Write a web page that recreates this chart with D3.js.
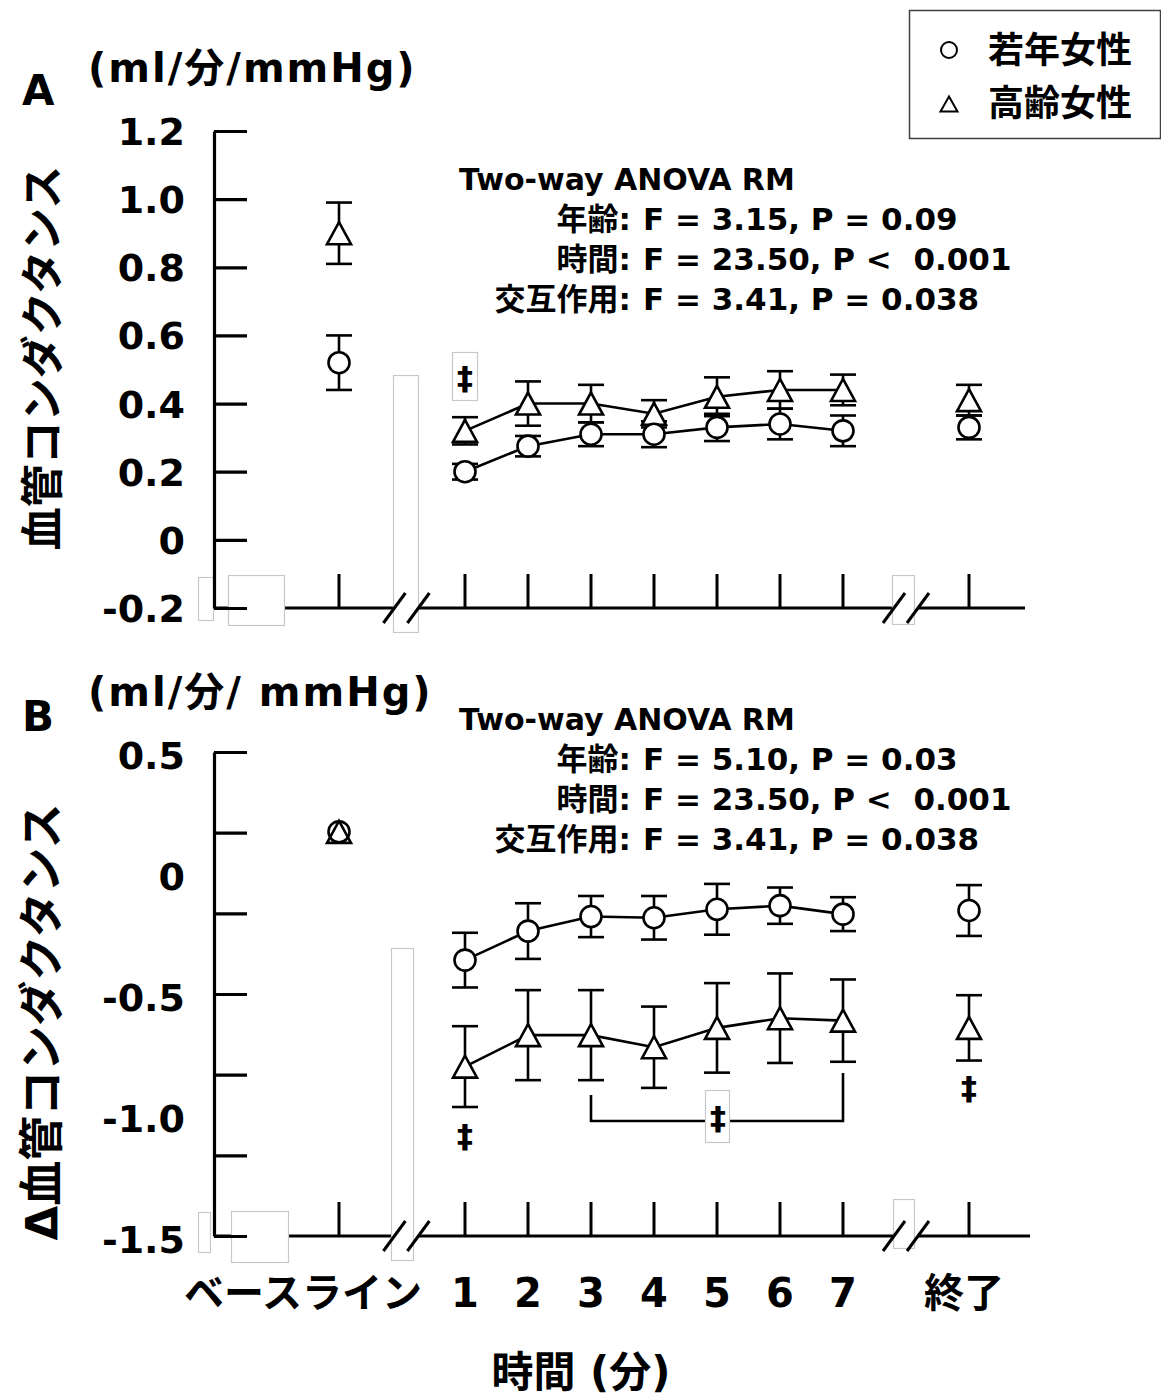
<!DOCTYPE html>
<html>
<head>
<meta charset="utf-8">
<script src="https://cdn.jsdelivr.net/npm/d3@7"></script>
<style>
  body { margin: 0; background: #fff; }
  svg { display: block; }
  text { font-family: "DejaVu Sans", "Noto Sans CJK JP", sans-serif; font-weight: bold; fill: #000; }
</style>
</head>
<body>
<svg id="chart" width="1161" height="1400"></svg>
<script>
// ---- data ----
const timeLabels = ["ベースライン", "1", "2", "3", "4", "5", "6", "7", "終了"];
const timeSlots = [-1, 1, 2, 3, 4, 5, 6, 7, 9];   // gaps at 0 and 8 carry the axis breaks
const lineSlots = [1, 2, 3, 4, 5, 6, 7];

// Panel A: vascular conductance (ml/min/mmHg), mean and SE
const youngA = [0.52, 0.20, 0.275, 0.31, 0.31, 0.33, 0.34, 0.32, 0.33];
const youngASE = [0.08, 0.023, 0.03, 0.035, 0.038, 0.04, 0.045, 0.045, 0.035];
const olderA = [0.90, 0.32, 0.40, 0.40, 0.37, 0.42, 0.44, 0.44, 0.41];
const olderASE = [0.09, 0.04, 0.065, 0.055, 0.04, 0.057, 0.055, 0.045, 0.045];

// Panel B: change in vascular conductance, mean and SE
const youngB = [0.17, -0.36, -0.24, -0.18, -0.185, -0.15, -0.135, -0.17, -0.155];
const youngBSE = [0, 0.113, 0.115, 0.085, 0.09, 0.105, 0.075, 0.07, 0.105];
const olderB = [0.17, -0.80, -0.67, -0.67, -0.72, -0.64, -0.60, -0.61, -0.64];
const olderBSE = [0, 0.167, 0.186, 0.186, 0.168, 0.185, 0.185, 0.17, 0.135];

const yTicksA = [-0.2, 0, 0.2, 0.4, 0.6, 0.8, 1.0, 1.2];
const yLabelsA = [-0.2, 0, 0.2, 0.4, 0.6, 0.8, 1.0, 1.2];
const yTicksB = [-1.5, -7 / 6, -5 / 6, -0.5, -1 / 6, 1 / 6, 0.5];
const yLabelsB = [0.5, 0, -0.5, -1.0, -1.5];

const statsA = [["年齢:", "F = 3.15, P = 0.09"], ["時間:", "F = 23.50, P <  0.001"], ["交互作用:", "F = 3.41, P = 0.038"]];
const statsB = [["年齢:", "F = 5.10, P = 0.03"], ["時間:", "F = 23.50, P <  0.001"], ["交互作用:", "F = 3.41, P = 0.038"]];
const legendNames = ["若年女性", "高齢女性"];

// ---- layout ----
const svg = d3.select("#chart");
const axisX = 214;
const x = d3.scaleLinear().domain([1, 7]).range([465, 843]);
const yA = d3.scaleLinear().domain([-0.2, 1.2]).range([608, 131]);
const yB = d3.scaleLinear().domain([-1.5, 0.5]).range([1236, 752]);
const breakSlots = [0.07, 8];
const BOX = "#c8c8c8";

// one decimal, plain hyphen for negatives, bare "0" at zero
function fmtTick(v) { return v === 0 ? "0" : d3.format(".1f")(v).replace("−", "-"); }

function triPath(cx, cy, w, h) {
  return `M${cx},${cy - h / 2}L${cx + w / 2},${cy + h / 2}L${cx - w / 2},${cy + h / 2}Z`;
}

function drawDagger(g, cx, cy) {
  g.append("text").attr("x", cx).attr("y", cy).attr("text-anchor", "middle")
    .attr("font-size", 32).text("‡");
}

function drawPanel(p) {
  const g = svg.append("g");
  const y = p.y;
  const yBase = y.range()[0];

  // x axis line with gaps at the breaks
  const gaps = breakSlots.map(s => x(s));
  const segs = [[axisX, gaps[0] - 12], [gaps[0] + 12, gaps[1] - 12], [gaps[1] + 12, p.axisEnd]];
  g.selectAll(".xseg").data(segs).join("line")
    .attr("x1", d => d[0]).attr("x2", d => d[1])
    .attr("y1", yBase).attr("y2", yBase)
    .attr("stroke", "#000").attr("stroke-width", 3.2);

  // framed white boxes
  g.selectAll(".box").data(p.boxes).join("rect")
    .attr("x", d => d[0] + 0.5).attr("y", d => d[1] + 0.5)
    .attr("width", d => d[2]).attr("height", d => d[3])
    .attr("fill", "#fff").attr("stroke", BOX).attr("stroke-width", 1.2);

  // break slashes
  gaps.forEach(bx => {
    [-12, 12].forEach(off => {
      g.append("line")
        .attr("x1", bx + off - 11).attr("y1", yBase + 15)
        .attr("x2", bx + off + 11).attr("y2", yBase - 15)
        .attr("stroke", "#000").attr("stroke-width", 3);
    });
  });

  // y axis with inward ticks
  const ax = g.append("g").attr("transform", `translate(${axisX},0)`)
    .call(d3.axisRight(y).tickValues(p.yTicks).tickSize(33).tickSizeOuter(0).tickFormat(""));
  ax.selectAll("path, line").attr("stroke", "#000").attr("stroke-width", 3.2);

  // y tick labels
  g.selectAll(".ylab").data(p.yLabels).join("text")
    .attr("x", 185).attr("y", d => y(d) + 14 + p.labelShift)
    .attr("text-anchor", "end").attr("font-size", 38)
    .text(fmtTick);

  // x ticks
  g.selectAll(".xtick").data(timeSlots).join("line")
    .attr("x1", d => x(d)).attr("x2", d => x(d))
    .attr("y1", yBase).attr("y2", yBase - 34)
    .attr("stroke", "#000").attr("stroke-width", 3);

  // error bars
  const series = [
    { m: p.older, se: p.olderSE, shape: "tri" },
    { m: p.young, se: p.youngSE, shape: "circ" }
  ];
  series.forEach(s => {
    const pts = timeSlots.map((t, i) => ({ t, m: s.m[i], se: s.se[i] })).filter(d => d.se > 0);
    const eb = g.append("g");
    eb.selectAll(".v").data(pts).join("line")
      .attr("x1", d => x(d.t)).attr("x2", d => x(d.t))
      .attr("y1", d => y(d.m + d.se)).attr("y2", d => y(d.m - d.se))
      .attr("stroke", "#000").attr("stroke-width", 2.6);
    [1, -1].forEach(sign => {
      eb.append("g").selectAll("line").data(pts).join("line")
        .attr("x1", d => x(d.t) - 13).attr("x2", d => x(d.t) + 13)
        .attr("y1", d => y(d.m + sign * d.se))
        .attr("y2", d => y(d.m + sign * d.se))
        .attr("stroke", "#000").attr("stroke-width", 2.6);
    });
  });

  // connecting lines over minutes 1-7
  const line = d3.line().x(d => x(d.t)).y(d => y(d.m));
  series.forEach(s => {
    const pts = timeSlots.map((t, i) => ({ t, m: s.m[i] })).filter(d => lineSlots.includes(d.t));
    g.append("path").attr("d", line(pts))
      .attr("fill", "none").attr("stroke", "#000").attr("stroke-width", 2.6);
  });

  // markers
  series.forEach(s => {
    const pts = timeSlots.map((t, i) => ({ t, m: s.m[i] }));
    if (s.shape === "circ") {
      g.append("g").selectAll("circle").data(pts).join("circle")
        .attr("cx", d => x(d.t)).attr("cy", d => y(d.m)).attr("r", 10.5)
        .attr("fill", d => (p.hollowBaseline && d.t === -1) ? "none" : "#fff")
        .attr("stroke", "#000").attr("stroke-width", 2.6);
    } else {
      g.append("g").selectAll("path").data(pts).join("path")
        .attr("d", d => triPath(x(d.t), y(d.m), 24, 22))
        .attr("fill", "#fff").attr("stroke", "#000").attr("stroke-width", 2.6);
    }
  });

  // stats block
  g.append("text").attr("x", 459).attr("y", p.statsY).attr("font-size", 30).text("Two-way ANOVA RM");
  p.stats.forEach((s, i) => {
    g.append("text").attr("x", 631).attr("y", p.statsY + 40 * (i + 1))
      .attr("text-anchor", "end").attr("font-size", 31).text(s[0]);
    g.append("text").attr("x", 643).attr("y", p.statsY + 40 * (i + 1))
      .attr("font-size", 31).style("white-space", "pre").text(s[1]);
  });

  // panel letter, unit, axis title
  g.append("text").attr("x", 22).attr("y", p.letterY).attr("font-size", 42).text(p.letter);
  g.append("text").attr("x", 88).attr("y", p.unitY).attr("font-size", 40)
    .attr("letter-spacing", 2).style("white-space", "pre").text(p.unit);
  g.append("text")
    .attr("transform", `translate(58,${p.titleY}) rotate(-90)`)
    .attr("text-anchor", "middle").attr("font-size", p.titleSize).text(p.title);

  return g;
}

// Panel A
const gA = drawPanel({
  y: yA, yTicks: yTicksA, yLabels: yLabelsA, labelShift: 0,
  young: youngA, youngSE: youngASE, older: olderA, olderSE: olderASE,
  axisEnd: 1025,
  boxes: [[198, 577, 15, 43], [228, 575, 56, 50], [393, 375, 25, 257], [892, 575, 22, 49], [452, 352, 25, 48]],
  stats: statsA, statsY: 190,
  letter: "A", letterY: 105, unit: "(ml/分/mmHg)", unitY: 82,
  title: "血管コンダクタンス", titleY: 358, titleSize: 43
});
drawDagger(gA, x(1), 389);

// Panel B
const gB = drawPanel({
  y: yB, yTicks: yTicksB, yLabels: yLabelsB, labelShift: 3,
  young: youngB, youngSE: youngBSE, older: olderB, olderSE: olderBSE,
  axisEnd: 1030, hollowBaseline: true,
  boxes: [[198, 1212, 12, 40], [231, 1211, 57, 51], [391, 948, 22, 312], [893, 1199, 21, 49]],
  stats: statsB, statsY: 730,
  letter: "B", letterY: 731, unit: "(ml/分/ mmHg)", unitY: 706,
  title: "Δ血管コンダクタンス", titleY: 1022, titleSize: 45
});

// bracket across minutes 3-7 with its mark
gB.append("path")
  .attr("d", `M${x(3)},1095V1121H${x(7)}V1073`)
  .attr("fill", "none").attr("stroke", "#000").attr("stroke-width", 2.6);
gB.append("rect").attr("x", 705.5).attr("y", 1090.5).attr("width", 24).attr("height", 52)
  .attr("fill", "#fff").attr("stroke", BOX).attr("stroke-width", 1.2);
drawDagger(gB, x(1), 1147);
drawDagger(gB, (x(3) + x(7)) / 2 + 1, 1129);
drawDagger(gB, x(9), 1099);

// x tick labels
const xLabPos = timeSlots.map((t, i) => ({ t, label: timeLabels[i] }));
svg.selectAll(".xlab").data(xLabPos).join("text")
  .attr("x", d => d.t === -1 ? 303 : (d.t === 9 ? x(d.t) - 5 : x(d.t)))
  .attr("y", 1307).attr("text-anchor", "middle").attr("font-size", 40)
  .text(d => d.label);
svg.append("text").attr("x", 581).attr("y", 1387).attr("text-anchor", "middle")
  .attr("font-size", 42).text("時間 (分)");

// legend
const lg = svg.append("g");
lg.append("rect").attr("x", 909.5).attr("y", 10.5).attr("width", 251).attr("height", 128)
  .attr("fill", "#fff").attr("stroke", "#404040").attr("stroke-width", 1.5);
lg.append("circle").attr("cx", 949).attr("cy", 50).attr("r", 8)
  .attr("fill", "none").attr("stroke", "#000").attr("stroke-width", 2);
lg.append("path").attr("d", triPath(949, 104, 17, 15))
  .attr("fill", "none").attr("stroke", "#000").attr("stroke-width", 2);
lg.selectAll(".ln").data(legendNames).join("text")
  .attr("x", 988).attr("y", (d, i) => 63 + 53 * i).attr("font-size", 36).text(d => d);
</script>
</body>
</html>
